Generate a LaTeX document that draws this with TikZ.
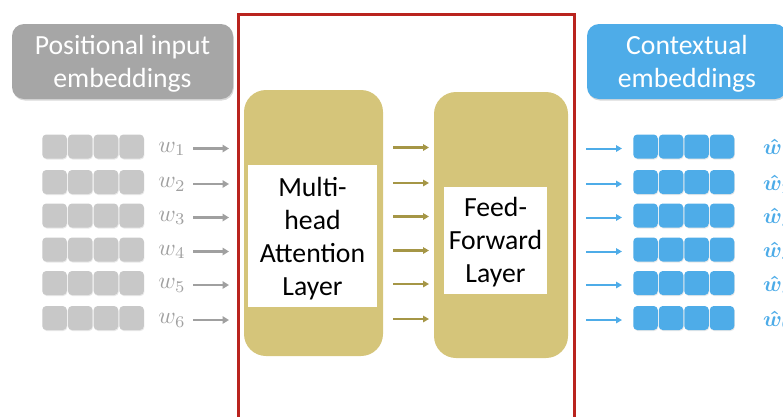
\documentclass[tikz,border=0pt]{standalone}
\usepackage{amsmath}
\usepackage{graphicx}
\usepackage{fontspec}
\setmainfont{Carlito}
\usetikzlibrary{arrows.meta,shadows,calc}

\definecolor{hdrgray}{RGB}{166,166,166}
\definecolor{cellgray}{RGB}{200,200,200}
\definecolor{arrgray}{RGB}{160,160,160}
\definecolor{skyblue}{RGB}{78,172,232}
\definecolor{khaki}{RGB}{213,197,122}
\definecolor{darkolive}{RGB}{165,150,70}
\definecolor{framered}{RGB}{185,35,30}

\begin{document}
\begin{tikzpicture}[x=1pt,y=-1pt,
  header/.style={rounded corners=12pt, inner sep=0pt,
    drop shadow={opacity=0.3,shadow xshift=0.8pt,shadow yshift=-1.5pt}},
  bigtext/.style={align=center, font=\fontsize{27.7}{33}\selectfont, inner sep=0pt},
  layerbox/.style={fill=khaki, rounded corners=22pt, inner sep=0pt},
  labelbox/.style={fill=white, inner sep=0pt},
  cell/.style={minimum width=24.5pt, minimum height=24pt,
    rounded corners=4pt, inner sep=0pt,
    drop shadow={opacity=0.18,shadow xshift=0.6pt,shadow yshift=-1pt}},
  wlab/.style={text=arrgray, inner sep=0pt},
  hatlab/.style={text=skyblue, inner sep=0pt, anchor=west},
  grayarrow/.style={draw=arrgray, line width=2.8pt, -{Triangle[length=6.5pt,width=7.5pt]}},
  olivearrow/.style={draw=darkolive, line width=2.2pt, -{Triangle[length=6pt,width=6.5pt]}},
  bluearrow/.style={draw=skyblue, line width=2pt, -{Triangle[length=6pt,width=6.5pt]}}
]
\useasboundingbox (0,0) rectangle (783,416);
\clip (0,0) rectangle (783,416);

% headers
\node[header, fill=hdrgray, minimum width=221pt, minimum height=75pt]
  (posin) at (122.5,61.5) {};
\node[bigtext, text=white] (posin-t) at ($(posin)+(0,2.5)$) {Positional input\\embeddings};
\node[header, fill=skyblue, minimum width=200pt, minimum height=75pt]
  (ctx) at (687,61.5) {};
\node[bigtext, text=white] (ctx-t) at ($(ctx)+(0,2.5)$) {Contextual\\embeddings};

% encoder block frame
\draw[framered, line width=3pt] (238,430) -- (238,14) -- (574,14) -- (574,430);

% layers
\node[layerbox, minimum width=139pt, minimum height=266pt] (att) at (313.5,223) {};
\node[labelbox, minimum width=129pt, minimum height=142pt] (attbox) at (312.5,236) {};
\node[bigtext] (att-t) at ($(attbox)+(0,3)$) {Multi-\\head\\Attention\\Layer};
\node[layerbox, minimum width=134pt, minimum height=266pt] (ff) at (501,225) {};
\node[labelbox, minimum width=103pt, minimum height=107pt] (ffbox) at (495.5,240.5) {};
\node[bigtext] (ff-t) at ($(ffbox)+(0,1.5)$) {Feed-\\Forward\\Layer};

% token rows
\foreach \y [count=\i] in {146.5,182,215.5,249.5,283,318} {
  \foreach \j in {0,1,2,3} {
    \node[cell, fill=cellgray] (g-\i-\j) at (54.5+25.7*\j,\y) {};
    \node[cell, fill=skyblue] (b-\i-\j) at (645.5+25.5*\j,\y) {};
  }
  \node[wlab] (w-\i) at (172,\y+2.5) {\scalebox{2.35}{$w_{\i}$}};
  \node[hatlab] (wh-\i) at (763,\y+2.5) {\scalebox{2.2}{$\boldsymbol{\hat{w}_{\i}}$}};
  \coordinate (gs-\i) at (193,\y+2);
  \coordinate (ge-\i) at (229,\y+2);
  \draw[grayarrow] (gs-\i) -- (ge-\i);
  \coordinate (ms-\i) at (393,\y+1);
  \coordinate (me-\i) at (429,\y+1);
  \draw[olivearrow] (ms-\i) -- (me-\i);
  \coordinate (bs-\i) at (586,\y+2);
  \coordinate (be-\i) at (622,\y+2);
  \draw[bluearrow] (bs-\i) -- (be-\i);
}
\end{tikzpicture}
\end{document}
